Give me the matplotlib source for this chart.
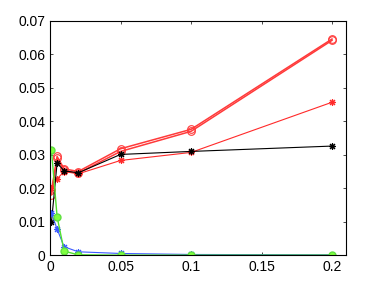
import matplotlib
matplotlib.use("Agg")
import matplotlib.pyplot as plt

matplotlib.rcParams['font.family'] = ['Liberation Sans', 'DejaVu Sans']
matplotlib.rcParams['font.size'] = 10

x = [0.001, 0.005, 0.01, 0.02, 0.05, 0.1, 0.2]

red_circ_a = [0.0180, 0.0295, 0.0258, 0.0250, 0.0318, 0.0376, 0.0646]
red_circ_b = [0.0195, 0.0290, 0.0253, 0.0245, 0.0310, 0.0370, 0.0642]
red_star = [0.0200, 0.0228, 0.0250, 0.0243, 0.0283, 0.0307, 0.0457]
black_star = [0.0098, 0.0275, 0.0252, 0.0246, 0.0301, 0.0310, 0.0326]
blue_star = [0.0126, 0.0078, 0.0025, 0.0010, 0.0005, 0.0002, 0.0001]
green_circ = [0.0314, 0.0115, 0.0012, 0.0001, 0.0000, 0.0000, 0.0000]

star = (8, 2, 0)  # asterisk like matlab '*'

fig = plt.figure(figsize=(3.82, 2.87), dpi=100)
ax = fig.add_axes([0.131, 0.111, 0.775, 0.816])

ax.plot(x, red_circ_a, color='#ff3a3a', lw=1.1, marker='o', ms=5.5, mfc='none', mew=0.8)
ax.plot(x, red_circ_b, color='#ff3a3a', lw=1.1, marker='o', ms=5.5, mfc='none', mew=0.8)
ax.plot(x, red_star, color='#ff2a2a', lw=0.8, marker=star, ms=5, mew=0.8)
ax.plot(x, black_star, color='black', lw=0.8, marker=star, ms=5, mew=0.8)
ax.plot(x, blue_star, color='#3a5aff', lw=0.8, marker=star, ms=5, mew=0.8)
ax.plot(x, green_circ, color='#50e030', lw=1.0, marker='o', ms=5, mfc='#80ff40', mec='#60e040')

ax.set_xlim(0, 0.21)
ax.set_ylim(0, 0.07)
ax.set_xticks([0, 0.05, 0.1, 0.15, 0.2])
ax.set_xticklabels(['0', '0.05', '0.1', '0.15', '0.2'])
ax.set_yticks([0, 0.01, 0.02, 0.03, 0.04, 0.05, 0.06, 0.07])
ax.set_yticklabels(['0', '0.01', '0.02', '0.03', '0.04', '0.05', '0.06', '0.07'])
ax.tick_params(direction='in', top=True, right=True, length=2.5, width=0.5)
for s in ax.spines.values():
    s.set_linewidth(0.8)

fig.savefig('out.png', dpi=100)
